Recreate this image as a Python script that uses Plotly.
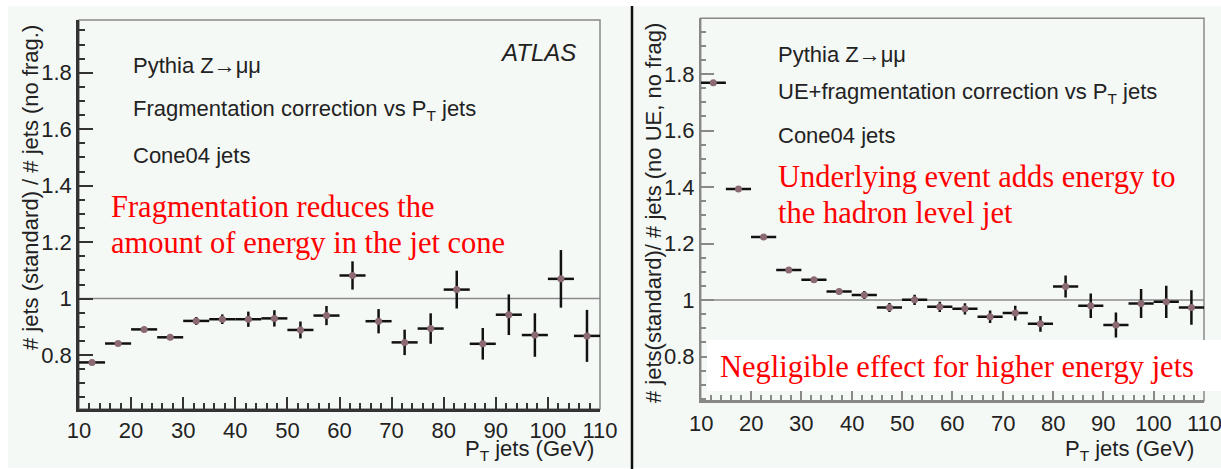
import plotly.graph_objects as go

W, H = 1221, 469

# Bin centres (GeV), 5 GeV wide bins from 10 to 110
pt_centres = [12.5, 17.5, 22.5, 27.5, 32.5, 37.5, 42.5, 47.5, 52.5, 57.5,
              62.5, 67.5, 72.5, 77.5, 82.5, 87.5, 92.5, 97.5, 102.5, 107.5]
half_width = [2.5] * 20

# Fragmentation correction: standard / no fragmentation
frag_ratio = [0.774, 0.841, 0.891, 0.863, 0.921, 0.927, 0.927, 0.930, 0.889, 0.940,
              1.082, 0.920, 0.845, 0.894, 1.032, 0.840, 0.943, 0.871, 1.070, 0.868]
frag_err = [0.004, 0.005, 0.007, 0.009, 0.014, 0.017, 0.027, 0.029, 0.030, 0.034,
            0.050, 0.043, 0.045, 0.054, 0.067, 0.056, 0.072, 0.077, 0.102, 0.092]

# UE + fragmentation correction: standard / (no UE, no fragmentation)
ue_ratio = [1.769, 1.393, 1.223, 1.106, 1.072, 1.030, 1.018, 0.974, 1.001, 0.976,
            0.969, 0.941, 0.954, 0.916, 1.048, 0.980, 0.912, 0.988, 0.994, 0.974]
ue_err = [0.004, 0.005, 0.006, 0.007, 0.008, 0.010, 0.014, 0.016, 0.018, 0.018,
          0.020, 0.022, 0.026, 0.028, 0.039, 0.043, 0.044, 0.051, 0.057, 0.061]

x_ticks = [10, 20, 30, 40, 50, 60, 70, 80, 90, 100, 110]
y_ticks = [0.8, 1.0, 1.2, 1.4, 1.6, 1.8]
y_tick_text = ["0.8", "1", "1.2", "1.4", "1.6", "1.8"]

BG = "#f5f9f6"
MARKER = "#8c6a72"
SANS = "Liberation Sans, Arial, sans-serif"
SERIF = "Liberation Serif, Times New Roman, serif"


def fx(px):
    return px / W


def fy(py):
    return 1 - py / H


X_RANGE = [10, 110]
X2_DOMAIN = [fx(700.7), fx(1204)]

fig = go.Figure()

for xa, ya, vals, errs in [("x", "y", frag_ratio, frag_err), ("x2", "y2", ue_ratio, ue_err)]:
    fig.add_trace(go.Scatter(
        x=pt_centres, y=vals, xaxis=xa, yaxis=ya, mode="markers",
        marker=dict(size=7, color=MARKER),
        error_x=dict(type="data", array=half_width, visible=True, width=0,
                     thickness=2.5, color="#111111"),
        error_y=dict(type="data", array=errs, visible=True, width=0,
                     thickness=2.5, color="#111111"),
        showlegend=False, cliponaxis=False,
    ))


def axis_common(color, width):
    return dict(showline=True, linecolor=color, linewidth=width, ticks="inside",
                tickcolor=color, tickwidth=1.5, showgrid=False, zeroline=False,
                automargin=False, ticklabeloverflow="allow",
                tickfont=dict(family=SANS, size=22, color="#222222"))


layout = dict(
    width=W, height=H, margin=dict(l=0, r=0, t=0, b=0, pad=0, autoexpand=False),
    paper_bgcolor="white", plot_bgcolor=BG, showlegend=False,
)

layout["xaxis"] = dict(axis_common("#333333", 2.5), domain=[fx(79), fx(600)], range=X_RANGE,
                       tickvals=x_ticks, ticklen=12, anchor="y",
                       minor=dict(ticks="inside", dtick=2, ticklen=6, tickcolor="#333333", tickwidth=1.5))
layout["yaxis"] = dict(axis_common("#333333", 2.5), domain=[fy(409), fy(20)], range=[0.609, 1.987],
                       tickvals=y_ticks, ticktext=y_tick_text, ticklen=14, anchor="x",
                       minor=dict(ticks="inside", dtick=0.05, tick0=0, ticklen=6, tickcolor="#333333", tickwidth=1.5))
# right pad: x tick labels are written below the axis as separate texts
layout["xaxis2"] = dict(axis_common("#888888", 1.5), domain=X2_DOMAIN, range=X_RANGE,
                        tickvals=x_ticks, ticklen=12, anchor="y2", showticklabels=False,
                        minor=dict(ticks="inside", dtick=2, ticklen=6, tickcolor="#888888", tickwidth=1.5))
layout["yaxis2"] = dict(axis_common("#888888", 1.5), domain=[fy(400.7), fy(18.3)], range=[0.644, 1.997],
                        tickvals=y_ticks, ticktext=y_tick_text, ticklen=14, anchor="x2",
                        minor=dict(ticks="inside", dtick=0.05, tick0=0, ticklen=6, tickcolor="#888888", tickwidth=1.5))

fig.update_layout(**layout)

shapes = [
    # page background
    dict(type="rect", xref="paper", yref="paper", x0=fx(8), x1=1, y0=fy(468), y1=fy(6),
         fillcolor=BG, line=dict(width=0), layer="below"),
    # separator between the two pads
    dict(type="line", xref="paper", yref="paper", x0=fx(632), x1=fx(632), y0=0, y1=fy(6),
         line=dict(color="#111111", width=2.5)),
    # frames
    dict(type="rect", xref="x domain", yref="y domain", x0=0, x1=1, y0=0, y1=1,
         line=dict(color="#888888", width=1.5), layer="below"),
    dict(type="rect", xref="x2 domain", yref="y2 domain", x0=0, x1=1, y0=0, y1=1,
         line=dict(color="#888888", width=1.5), layer="below"),
    # unity reference lines
    dict(type="line", xref="x domain", yref="y", x0=0, x1=1, y0=1, y1=1,
         line=dict(color="#8a8a8a", width=1.5), layer="below"),
    dict(type="line", xref="x2 domain", yref="y2", x0=0, x1=1, y0=1, y1=1,
         line=dict(color="#8a8a8a", width=1.5), layer="below"),
    # white label box in the right pad
    dict(type="rect", xref="paper", yref="paper", x0=fx(707), x1=1, y0=fy(391), y1=fy(340),
         fillcolor="white", line=dict(width=0), layer="above"),
]
fig.update_layout(shapes=shapes)


def label(text, x, y, size=22, color="#222222", family=SANS, xanchor="left", angle=0):
    fig.add_annotation(text=text, x=fx(x), y=fy(y), xref="paper", yref="paper",
                       xanchor=xanchor, yanchor="middle", showarrow=False, textangle=angle,
                       font=dict(family=family, size=size, color=color))


# x tick labels of the right pad, placed by the x2 axis' linear mapping
for t in x_ticks:
    frac = (t - X_RANGE[0]) / (X_RANGE[1] - X_RANGE[0])
    xpos = X2_DOMAIN[0] + frac * (X2_DOMAIN[1] - X2_DOMAIN[0])
    fig.add_annotation(text=str(t), x=xpos, xref="paper", y=fy(423), yref="paper",
                       xanchor="center", yanchor="middle", showarrow=False,
                       font=dict(family=SANS, size=22, color="#222222"))

RED = 30.5

# left pad
label("Pythia Z→μμ", 131, 65)
label("Fragmentation correction vs P<sub>T</sub> jets", 131, 110)
label("Cone04 jets", 131, 156)
label("<i>ATLAS</i>", 578, 52, size=24, xanchor="right")
label("Fragmentation reduces the", 109, 207, size=RED, color="#ff0000", family=SERIF)
label("amount of energy in the jet cone", 109, 243, size=RED, color="#ff0000", family=SERIF)
label("# jets (standard) / # jets (no frag.)", 30, 188, size=22, angle=-90, xanchor="center")
label("P<sub>T</sub> jets (GeV)", 596, 450, xanchor="right")

# right pad
label("Pythia Z→μμ", 776, 55)
label("UE+fragmentation correction vs P<sub>T</sub> jets", 776, 93)
label("Cone04 jets", 776, 135)
label("Underlying event adds energy to", 776, 177, size=RED, color="#ff0000", family=SERIF)
label("the hadron level jet", 776, 213, size=RED, color="#ff0000", family=SERIF)
label("Negligible effect for higher energy jets", 718, 367, size=RED, color="#ff0000", family=SERIF)
label("# jets(standard)/ # jets (no UE, no frag)", 653, 213, size=22, angle=-90, xanchor="center")
label("P<sub>T</sub> jets (GeV)", 1196, 450, xanchor="right")

fig.write_html("out.html")
